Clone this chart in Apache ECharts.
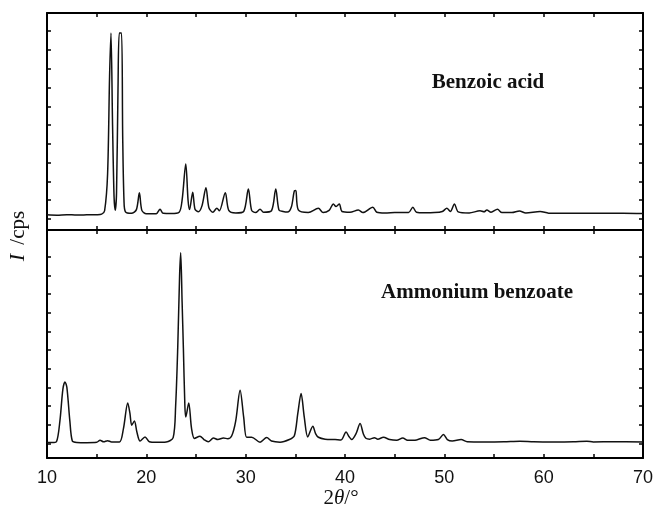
<!DOCTYPE html>
<html>
<head>
<meta charset="utf-8">
<script src="https://cdn.jsdelivr.net/npm/echarts@6/dist/echarts.min.js"></script>
<style>html,body{margin:0;padding:0;background:#fff}#c{width:656px;height:515px}</style>
</head>
<body>
<div id="c"></div>
<script>
// 2θ (deg), intensity (cps)
const benzoicAcid = [
 [10,110],[11,100],[12,115],[13,105],[14,110],[15,115],[15.5,130],[15.8,220],[16.1,1200],[16.3,3800],[16.44,4953],[16.6,2500],[16.75,600],[16.87,230],[17.0,700],[17.15,3500],[17.28,4953],[17.5,4953],[17.62,2200],[17.75,500],[17.9,190],[18.5,150],[19.0,250],[19.3,700],[19.55,230],[20,140],[21,140],[21.38,260],[21.7,150],[22.5,145],[23.3,180],[23.6,500],[23.97,1467],[24.2,500],[24.35,250],[24.67,712],[24.9,260],[25.24,195],[25.6,350],[26.0,835],[26.3,300],[26.7,180],[27.1,285],[27.35,220],[27.95,701],[28.3,230],[29,160],[29.8,200],[30.27,800],[30.6,230],[31.0,170],[31.45,260],[31.8,180],[32.6,220],[33.03,800],[33.35,240],[33.77,200],[34.2,185],[34.6,320],[34.92,755],[35.05,760],[35.3,240],[36.3,170],[37.32,285],[37.8,170],[38.4,230],[38.83,400],[39.1,330],[39.43,400],[39.7,200],[40.5,180],[41.35,240],[41.8,170],[42.8,312],[43.2,180],[44,160],[45,170],[46.4,175],[46.83,312],[47.2,180],[48,165],[49,170],[49.8,200],[50.25,285],[50.6,200],[51.02,400],[51.4,190],[52.5,160],[53.6,220],[54.0,190],[54.28,240],[54.7,180],[55.35,259],[55.8,170],[56.8,170],[57.56,213],[58.2,160],[59.65,200],[60.5,155],[62,150],[64,155],[66,150],[68,155],[70,145]
];
const ammoniumBenzoate = [
 [10,20],[10.5,18],[10.95,40],[11.3,600],[11.6,1450],[11.81,1645],[12.0,1500],[12.3,600],[12.55,60],[13,20],[14,15],[15,25],[15.34,80],[15.7,40],[16.1,70],[16.5,35],[17.3,35],[17.7,400],[18.13,1082],[18.35,800],[18.53,483],[18.8,599],[19.05,300],[19.37,60],[19.87,169],[20.3,40],[21,25],[22,35],[22.7,150],[22.95,1000],[23.16,2550],[23.35,4500],[23.46,5108],[23.6,3800],[23.73,2550],[23.88,1000],[23.97,706],[24.27,1082],[24.55,400],[24.85,130],[25.4,188],[25.8,100],[26.24,40],[26.75,142],[27.2,100],[27.76,142],[28.2,120],[28.6,200],[29.0,600],[29.44,1423],[29.8,700],[30.1,160],[30.6,160],[31.45,30],[32.12,153],[32.6,60],[33.46,30],[34.4,100],[34.9,200],[35.25,800],[35.58,1334],[35.9,700],[36.25,170],[36.76,456],[37.05,250],[37.32,161],[38,110],[39,100],[39.6,90],[40.11,303],[40.4,180],[40.68,100],[41.1,250],[41.52,529],[41.85,250],[42.1,134],[42.5,110],[42.96,150],[43.3,110],[43.87,161],[44.5,100],[45.2,80],[45.82,142],[46.3,80],[47.2,90],[48.0,150],[48.6,80],[49.4,100],[49.91,233],[50.3,100],[50.8,60],[51.69,99],[52.3,40],[54,35],[56,40],[57.6,55],[59,40],[61,35],[63,40],[64.35,55],[65,35],[67,40],[70,35]
];
const xTickLabels = [10,20,30,40,50,60,70];
const yTicks = [0,500,1000,1500,2000,2500,3000,3500,4000,4500,5000];
const seriesNames = ['Benzoic acid','Ammonium benzoate'];

const chart = echarts.init(document.getElementById('c'), null, {renderer:'canvas'});
const lineStyle = {color:'#000', width:2};
function xAx(gi, pos, showLabel){
  return {type:'value', gridIndex:gi, position:pos, min:10, max:70, interval:5,
    axisLine:{show:true, onZero:false, lineStyle:lineStyle},
    axisTick:{show:true, inside:true, length:4, lineStyle:{color:'#000', width:1.5}},
    axisLabel:{show:showLabel, margin:11, color:'#111', fontFamily:'Liberation Sans', fontSize:18,
      formatter:v=> xTickLabels.indexOf(v)>=0 ? String(v) : ''},
    splitLine:{show:false}};
}
function yAx(gi, pos, min, max){
  return {type:'value', gridIndex:gi, position:pos, min:min, max:max,
    axisLine:{show:true, onZero:false, lineStyle:lineStyle},
    axisTick:{show:true, inside:true, length:4, customValues:yTicks, lineStyle:{color:'#000', width:1.5}},
    axisLabel:{show:false}, splitLine:{show:false}};
}
chart.setOption({
  animation:false,
  grid:[
    {left:47, right:13, top:13, height:217},
    {left:47, right:13, top:230, height:228}
  ],
  xAxis:[xAx(0,'bottom',false), xAx(0,'top',false), xAx(1,'bottom',true), xAx(1,'top',false)],
  yAxis:[yAx(0,'left',-293,5486), yAx(0,'right',-293,5486), yAx(1,'left',-395,5716), yAx(1,'right',-395,5716)],
  series:[
    {name:seriesNames[0], type:'line', xAxisIndex:0, yAxisIndex:0, data:benzoicAcid, showSymbol:false, smooth:0.3,
      lineStyle:{color:'#111', width:1.5}},
    {name:seriesNames[1], type:'line', xAxisIndex:2, yAxisIndex:2, data:ammoniumBenzoate, showSymbol:false, smooth:0.3,
      lineStyle:{color:'#111', width:1.5}}
  ],
  graphic:[
    {type:'text', style:{text:seriesNames[0], x:488, y:83, align:'center', verticalAlign:'middle',
      font:'bold 21px "Liberation Serif"', fill:'#111'}},
    {type:'text', style:{text:seriesNames[1], x:477, y:293, align:'center', verticalAlign:'middle',
      font:'bold 21px "Liberation Serif"', fill:'#111'}},
    {type:'text', x:18, y:236, rotation:Math.PI/2, style:{text:'{i|I} /cps', align:'center', verticalAlign:'middle',
      fill:'#111', font:'21px "Liberation Serif"',
      rich:{i:{fontStyle:'italic', fontFamily:'Liberation Serif', fontSize:22, fill:'#111', padding:[0,4,0,0]}}}},
    {type:'text', style:{text:'2{i|θ}/°', x:341, y:498, align:'center', verticalAlign:'middle',
      fill:'#111', font:'21px "Liberation Serif"',
      rich:{i:{fontStyle:'italic', fontFamily:'Liberation Serif', fontSize:21, fill:'#111'}}}}
  ]
});
</script>
</body>
</html>
